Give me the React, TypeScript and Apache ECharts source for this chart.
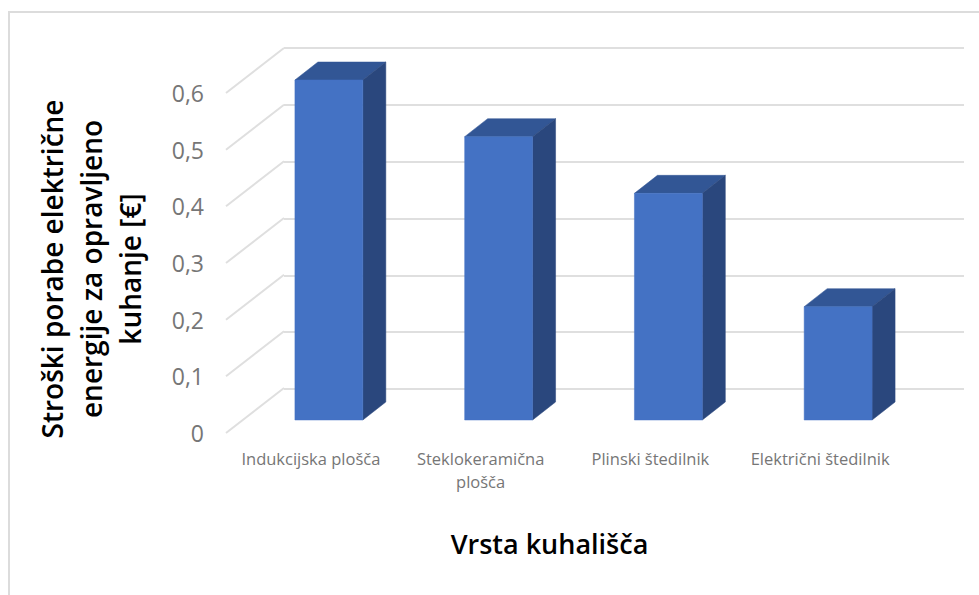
import React, { useEffect, useRef } from "react";
import * as echarts from "echarts";

const categories = ["Indukcijska plošča", "Steklokeramična\nplošča", "Plinski štedilnik", "Električni štedilnik"];
const costs = [0.6, 0.5, 0.4, 0.2];
const wallTicks = [0, 0.1, 0.2, 0.3, 0.4, 0.5, 0.6];
const yTitle = "Stroški porabe električne\nenergije za opravljeno\nkuhanje [€]";
const xTitle = "Vrsta kuhališča";

const FONT = "'Open Sans', sans-serif";
const GRID_COLOR = "#dfdfdf";
const DEPTH_X = 23;
const DEPTH_Y = 18;
const WALL_X = 58;
const WALL_Y = 45;

export default function App() {
  const ref = useRef<HTMLDivElement>(null);
  useEffect(() => {
    document.body.style.margin = "0";
    const chart = echarts.init(ref.current!, null, { renderer: "svg" });
    const valueAxisBase = { type: "value", min: 0, max: 0.6, interval: 0.1 };
    chart.setOption({
      animation: false,
      backgroundColor: "#ffffff",
      grid: [
        { left: 226, top: 93, width: 679, height: 340, outerBoundsMode: "none" },
        { left: 284, top: 48, width: 680, height: 341, outerBoundsMode: "none" },
        { left: 244, top: 80, width: 679, height: 340, outerBoundsMode: "none" },
      ],
      xAxis: [
        {
          type: "category",
          gridIndex: 0,
          data: categories,
          axisLine: { show: false },
          axisTick: { show: false },
          axisLabel: {
            color: "#767676",
            fontFamily: FONT,
            fontSize: 16.5,
            lineHeight: 23,
            margin: 14,
            interval: 0,
          },
          name: xTitle,
          nameLocation: "middle",
          nameGap: 97,
          nameTextStyle: {
            color: "#000000",
            fontFamily: FONT,
            fontWeight: 600,
            fontSize: 27,
            padding: [0, 32, 0, 0],
          },
        },
        { type: "category", gridIndex: 1, data: categories, show: false },
        { type: "category", gridIndex: 2, data: categories, show: false },
      ],
      yAxis: [
        {
          ...valueAxisBase,
          gridIndex: 0,
          axisLine: { show: false },
          axisTick: { show: false },
          splitLine: { show: false },
          axisLabel: {
            color: "#767676",
            fontFamily: FONT,
            fontSize: 23,
            margin: 22,
            formatter: (v: number) => String(v).replace(".", ","),
          },
          name: yTitle,
          nameLocation: "middle",
          nameRotate: 90,
          nameGap: 77,
          nameTextStyle: {
            color: "#000000",
            fontFamily: FONT,
            fontWeight: 600,
            fontSize: 28,
            lineHeight: 39,
            align: "center",
            padding: [0, 12, 0, 0],
          },
        },
        {
          ...valueAxisBase,
          gridIndex: 1,
          axisLabel: { show: false },
          axisLine: { show: false },
          axisTick: { show: false },
          splitLine: { show: true, lineStyle: { color: GRID_COLOR, width: 2 } },
        },
        {
          ...valueAxisBase,
          gridIndex: 2,
          axisLabel: { show: false },
          axisLine: { show: false },
          axisTick: { show: false },
          splitLine: { show: false },
        },
      ],
      series: [
        {
          type: "custom",
          xAxisIndex: 0,
          yAxisIndex: 0,
          silent: true,
          clip: false,
          data: wallTicks.map((v) => [0, v]),
          encode: { x: 0, y: 1 },
          renderItem: (_p: any, api: any) => {
            const c = api.coord([0, api.value(1)]);
            const left = c[0] - api.size([1, 0])[0] / 2;
            return {
              type: "line",
              shape: { x1: left, y1: c[1], x2: left + WALL_X, y2: c[1] - WALL_Y },
              style: { stroke: GRID_COLOR, lineWidth: 2, fill: "none" },
            };
          },
        },
        {
          type: "custom",
          xAxisIndex: 2,
          yAxisIndex: 2,
          silent: true,
          clip: false,
          z: 5,
          data: costs.map((v, i) => [i, v]),
          encode: { x: 0, y: 1 },
          renderItem: (_p: any, api: any) => {
            const i = api.value(0);
            const top = api.coord([i, api.value(1)]);
            const bottom = api.coord([i, 0]);
            const w = api.size([1, 0])[0] * 0.4;
            const l = top[0] - w / 2;
            const r = top[0] + w / 2;
            const poly = (points: number[][], fill: string) => ({
              type: "polygon",
              shape: { points },
              style: { fill, stroke: fill, lineWidth: 0.5 },
            });
            return {
              type: "group",
              children: [
                poly([[l, top[1]], [r, top[1]], [r + DEPTH_X, top[1] - DEPTH_Y], [l + DEPTH_X, top[1] - DEPTH_Y]], "#325695"),
                poly([[r, top[1]], [r + DEPTH_X, top[1] - DEPTH_Y], [r + DEPTH_X, bottom[1] - DEPTH_Y], [r, bottom[1]]], "#2A477D"),
                poly([[l, top[1]], [r, top[1]], [r, bottom[1]], [l, bottom[1]]], "#4472C4"),
              ],
            };
          },
        },
      ],
      graphic: [
        {
          type: "polyline",
          silent: true,
          shape: { points: [[9, 595], [9, 12], [979, 12]] },
          style: { stroke: "#dcdcdc", lineWidth: 2, fill: "none" },
        },
      ],
    });
    return () => chart.dispose();
  }, []);
  return <div ref={ref} style={{ width: 979, height: 595 }} />;
}
